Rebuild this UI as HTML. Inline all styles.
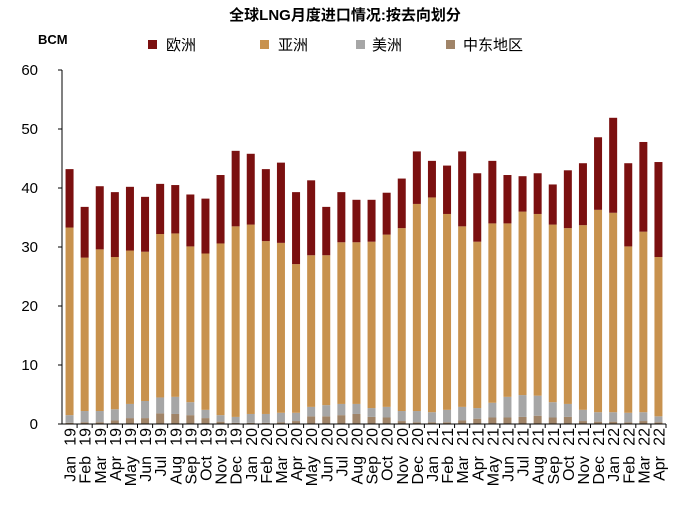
<!DOCTYPE html>
<html><head><meta charset="utf-8"><style>
html,body{margin:0;padding:0;background:#fff;}
svg{display:block;font-family:"Liberation Sans","Noto Sans CJK SC",sans-serif;}
</style></head><body>
<svg id="c" width="691" height="505">
<text x="345" y="20" text-anchor="middle" font-size="15" font-weight="bold">全球LNG月度进口情况:按去向划分</text>
<text x="38" y="44" font-size="13" font-weight="bold">BCM</text>
<g>
<rect x="148" y="40" width="9" height="9" fill="#7b1010"/><text x="166" y="50" font-size="15">欧洲</text>
<rect x="260" y="40" width="9" height="9" fill="#c8924e"/><text x="278" y="50" font-size="15">亚洲</text>
<rect x="356" y="40" width="9" height="9" fill="#a6a6a6"/><text x="372" y="50" font-size="15">美洲</text>
<rect x="446" y="40" width="9" height="9" fill="#a08468"/><text x="463" y="50" font-size="15">中东地区</text>
</g>
<g id="plot"></g>
</svg>
<script>
const months=["Jan","Feb","Mar","Apr","May","Jun","Jul","Aug","Sep","Oct","Nov","Dec","Jan","Feb","Mar","Apr","May","Jun","Jul","Aug","Sep","Oct","Nov","Dec","Jan","Feb","Mar","Apr","May","Jun","Jul","Aug","Sep","Oct","Nov","Dec","Jan","Feb","Mar","Apr"];
const years=["19","19","19","19","19","19","19","19","19","19","19","19","20","20","20","20","20","20","20","20","20","20","20","20","21","21","21","21","21","21","21","21","21","21","21","21","22","22","22","22"];
const middleEast=[0.2,0.3,0.3,0.6,1.0,1.0,1.8,1.7,1.5,1.0,0.4,0.2,0.2,0.2,0.3,0.5,1.3,1.3,1.5,1.7,1.2,1.1,0.5,0.3,0.3,0.3,0.6,0.9,1.1,1.1,1.2,1.4,1.1,1.2,0.5,0.4,0.4,0.3,0.5,0.3];
const americasTop=[1.5,2.2,2.2,2.5,3.4,3.9,4.5,4.6,3.7,2.4,1.5,1.2,1.7,1.7,1.9,1.9,2.9,3.2,3.4,3.4,2.7,2.9,2.2,2.2,2.0,2.4,2.9,2.7,3.6,4.6,4.9,4.8,3.7,3.4,2.4,2.0,2.0,1.9,2.0,1.3];
const asiaTop=[33.3,28.2,29.6,28.3,29.4,29.2,32.2,32.3,30.1,28.9,30.6,33.5,33.8,31.0,30.7,27.1,28.6,28.6,30.8,30.8,30.9,32.1,33.2,37.3,38.4,35.6,33.5,30.9,34.0,34.0,36.0,35.6,33.8,33.2,33.7,36.3,35.8,30.1,32.6,28.3];
const totals=[43.2,36.8,40.3,39.3,40.2,38.5,40.7,40.5,38.9,38.2,42.2,46.3,45.8,43.2,44.3,39.3,41.3,36.8,39.3,38.0,38.0,39.2,41.6,46.2,44.6,43.8,46.2,42.5,44.6,42.2,42.0,42.5,40.6,43.0,44.2,48.6,51.9,44.2,47.8,44.4];
const yTicks=[0,10,20,30,40,50,60];
const NS="http://www.w3.org/2000/svg";
const g=document.getElementById("plot");
const X0=62,X1=666,Y0=424,Y1=70;
const band=(X1-X0)/months.length;
const y=v=>Y0-(v/60)*(Y0-Y1);
const xc=i=>X0+band*(i+0.5);
function mk(t,a){const e=document.createElementNS(NS,t);for(const k in a)e.setAttribute(k,a[k]);g.appendChild(e);return e;}
yTicks.forEach(t=>{
 const tx=mk("text",{x:38,y:y(t)+5,"text-anchor":"end","font-size":"15"});tx.textContent=t;
 
 
 const tk=mk("line",{x1:X0-4,x2:X0,y1:y(t),y2:y(t),stroke:"#000"});
 
 
});
const colors=["#a08468","#a6a6a6","#c8924e","#7b1010"];
const names=["middle-east","americas","asia","europe"];
months.forEach((c,i)=>{
 const bounds=[0,middleEast[i],americasTop[i],asiaTop[i],totals[i]];
 for(let s=0;s<4;s++){
  const r=mk("rect",{x:xc(i)-4,width:8,y:y(bounds[s+1]),height:Math.max(0,y(bounds[s])-y(bounds[s+1])),fill:colors[s]});
  
  
 }
 const tk=mk("line",{x1:X0+band*(i+1),x2:X0+band*(i+1),y1:Y0,y2:Y0+4,stroke:"#000"});
 
 
 const ty=mk("text",{x:0,y:0,"font-size":"16","text-anchor":"end",transform:`translate(${xc(i)+6},428) rotate(-90)`});
 ty.textContent=years[i];
 
 
 const tm=mk("text",{x:0,y:0,"font-size":"16","text-anchor":"end",transform:`translate(${xc(i)+6},456) rotate(-90)`});
 tm.textContent=c;
 
 
});
const ax=mk("line",{x1:X0,x2:X0,y1:Y1,y2:Y0,stroke:"#000"});


const bx=mk("line",{x1:X0,x2:X1,y1:Y0,y2:Y0,stroke:"#000"});


</script>
</body></html>
